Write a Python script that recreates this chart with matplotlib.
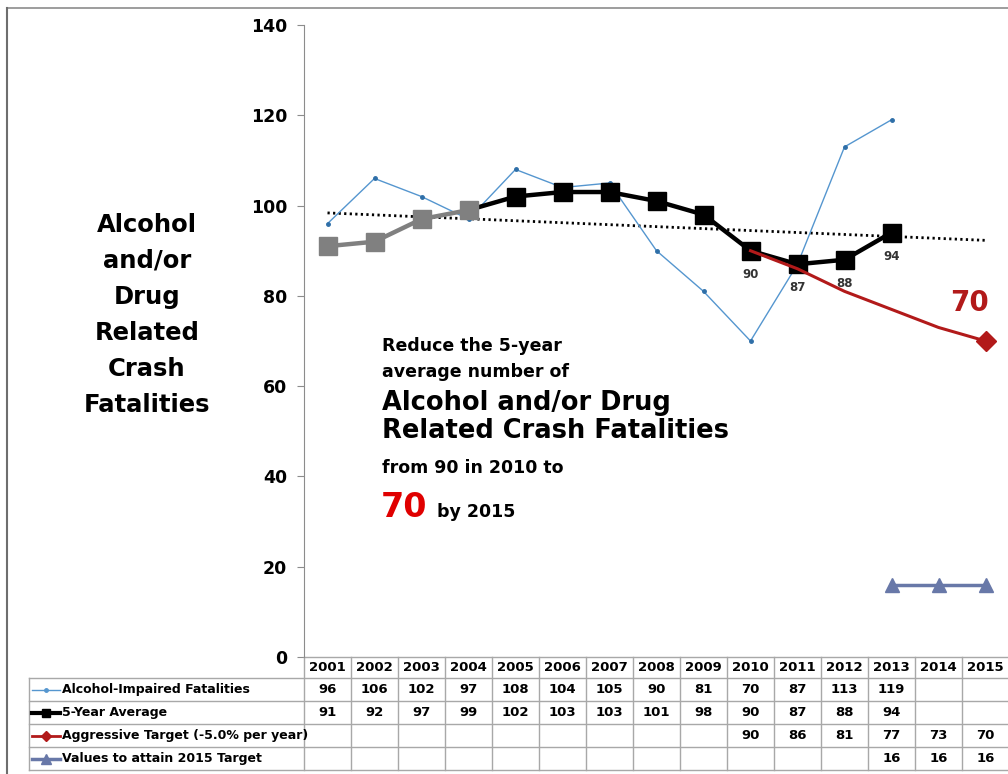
import numpy as np
import matplotlib.pyplot as plt
import matplotlib.transforms as mtransforms
from matplotlib.lines import Line2D

plt.rcParams['font.family'] = 'DejaVu Sans'
plt.rcParams['font.weight'] = 'bold'

years = [2001, 2002, 2003, 2004, 2005, 2006, 2007, 2008, 2009, 2010, 2011, 2012, 2013, 2014, 2015]
alcohol_impaired = [96, 106, 102, 97, 108, 104, 105, 90, 81, 70, 87, 113, 119, None, None]
five_year_avg = [91, 92, 97, 99, 102, 103, 103, 101, 98, 90, 87, 88, 94, None, None]
aggressive_target = [None, None, None, None, None, None, None, None, None, 90, 86, 81, 77, 73, 70]
values_to_attain = [None, None, None, None, None, None, None, None, None, None, None, None, 16, 16, 16]
labelled_years = [2010, 2011, 2012, 2013]
row_labels = ["Alcohol-Impaired Fatalities", "5-Year Average",
              "Aggressive Target (-5.0% per year)", "Values to attain 2015 Target"]

BLUE = '#5596CF'
RED = '#B21A1A'
SLATE = '#6878A8'
GRID = '#A8A8A8'

W, H = 1008, 774


def arr(vals):
    return np.array([np.nan if v is None else v for v in vals], dtype=float)


def px(x, y):
    return x / W, 1 - y / H


x = np.arange(len(years))
alc = arr(alcohol_impaired)
avg = arr(five_year_avg)
tgt = arr(aggressive_target)
att = arr(values_to_attain)

fig = plt.figure(figsize=(W / 100, H / 100), dpi=100)
ax = fig.add_axes([304 / W, 1 - 657 / H, 705 / W, 632 / H])
ax.set_xlim(-0.5, len(years) - 0.5)
ax.set_ylim(0, 140)
for s in ['top', 'right', 'bottom']:
    ax.spines[s].set_visible(False)
ax.spines['left'].set_color('#8c8c8c')
ax.set_xticks([])
ax.set_yticks(range(0, 141, 20))
ax.tick_params(axis='y', length=5, color='#8c8c8c', labelsize=12.5, pad=7)
for lab in ax.get_yticklabels():
    lab.set_fontweight('bold')

# linear trend of the 5-year average, carried out to 2015
ok = ~np.isnan(avg)
coef = np.polyfit(x[ok], avg[ok], 1)
ax.plot(x, np.polyval(coef, x), color='black', lw=2, ls=(0, (0.8, 1.2)), zorder=1)

ax.plot(x, alc, color=BLUE, lw=1, marker='o', ms=2.5, mfc='#2F6FA8', mec='#2F6FA8', zorder=2)

ax.plot(x[3:13], avg[3:13], color='black', lw=3.2, zorder=3)
ax.plot(x[4:13], avg[4:13], ls='none', marker='s', ms=12.5, color='black', zorder=4)
ax.plot(x[:4], avg[:4], color='#808080', lw=3.2, marker='s', ms=12.5, zorder=4)

ax.plot(x, tgt, color=RED, lw=2.2, zorder=5)
ax.plot(x[-1:], tgt[-1:], ls='none', marker='D', ms=10, color=RED, zorder=6)
ax.text(x[-1] - 0.33, tgt[-1] + 8.4, f"{int(tgt[-1])}", color=RED, fontsize=20,
        fontweight='bold', ha='center', va='center')

ax.plot(x, att, color=SLATE, lw=2.5, marker='^', ms=10, zorder=5)

for yr in labelled_years:
    i = years.index(yr)
    ax.annotate(f"{int(avg[i])}", (x[i], avg[i]), xytext=(0, -17), textcoords='offset points',
                ha='center', va='center', fontsize=8.5, fontweight='bold', color='#333333')

# data table under the plot
trans = mtransforms.blended_transform_factory(ax.transData, ax.transAxes)
head_h = 21 / 632
row_h = 23 / 632
bottom = -head_h - 4 * row_h
lab_left = -6.35
ax.plot([-0.5, 14.5], [0, 0], color=GRID, lw=1, transform=trans, clip_on=False)
for r in range(5):
    yy = -head_h - r * row_h
    ax.plot([lab_left, 14.5], [yy, yy], color=GRID, lw=1, transform=trans, clip_on=False)
for k in range(len(years) + 1):
    ax.plot([k - 0.5, k - 0.5], [0, bottom], color=GRID, lw=1, transform=trans, clip_on=False)
ax.plot([lab_left, lab_left], [-head_h, bottom], color=GRID, lw=1, transform=trans, clip_on=False)

for i, yr in enumerate(years):
    ax.text(x[i], -head_h / 2, str(yr), transform=trans, ha='center', va='center',
            fontsize=9.5, fontweight='bold')

rows = [alc, avg, tgt, att]
keys = [(BLUE, 1, 'o', 2.5), ('black', 3, 's', 6), (RED, 2, 'D', 5), (SLATE, 2.5, '^', 7)]
for r, (vals, key, label) in enumerate(zip(rows, keys, row_labels)):
    col, lw, mk, ms = key
    yc = -head_h - (r + 0.5) * row_h
    ax.plot([-6.28, -5.69], [yc, yc], transform=trans, clip_on=False, color=col, lw=lw)
    ax.plot([-5.985], [yc], transform=trans, clip_on=False, ls='none',
            marker=mk, ms=ms, color=col)
    ax.text(-5.65, yc, label, transform=trans, ha='left', va='center', fontsize=9, fontweight='bold')
    for i, v in enumerate(vals):
        if not np.isnan(v):
            ax.text(x[i], yc, f"{int(v)}", transform=trans, ha='center', va='center',
                    fontsize=9.5, fontweight='bold')

# side title
title_lines = ["Alcohol", "and/or", "Drug", "Related", "Crash", "Fatalities"]
for i, t in enumerate(title_lines):
    fig.text(*px(147, 232 + i * 36), t, ha='center', va='baseline', fontsize=17.5, fontweight='bold')

# goal statement
goal = [("Reduce the 5-year", 351, 12.5), ("average number of", 377, 12.5),
        ("Alcohol and/or Drug", 410, 18.5), ("Related Crash Fatalities", 438, 18.5),
        ("from 90 in 2010 to", 473, 12.5)]
for t, yb, fs in goal:
    fig.text(*px(382, yb), t, ha='left', va='baseline', fontsize=fs, fontweight='bold')
fig.text(*px(381, 517), "70", ha='left', va='baseline', fontsize=24, fontweight='bold', color='#E00000')
fig.text(*px(437, 517), "by 2015", ha='left', va='baseline', fontsize=12.5, fontweight='bold')

# outer frame lines
fig.add_artist(Line2D([7 / W, 1], [1 - 8 / H, 1 - 8 / H], transform=fig.transFigure, color='#8c8c8c', lw=1.2))
fig.add_artist(Line2D([7 / W, 7 / W], [0, 1 - 8 / H], transform=fig.transFigure, color='#6e6e6e', lw=1.5))

fig.savefig('out.png', dpi=100)
